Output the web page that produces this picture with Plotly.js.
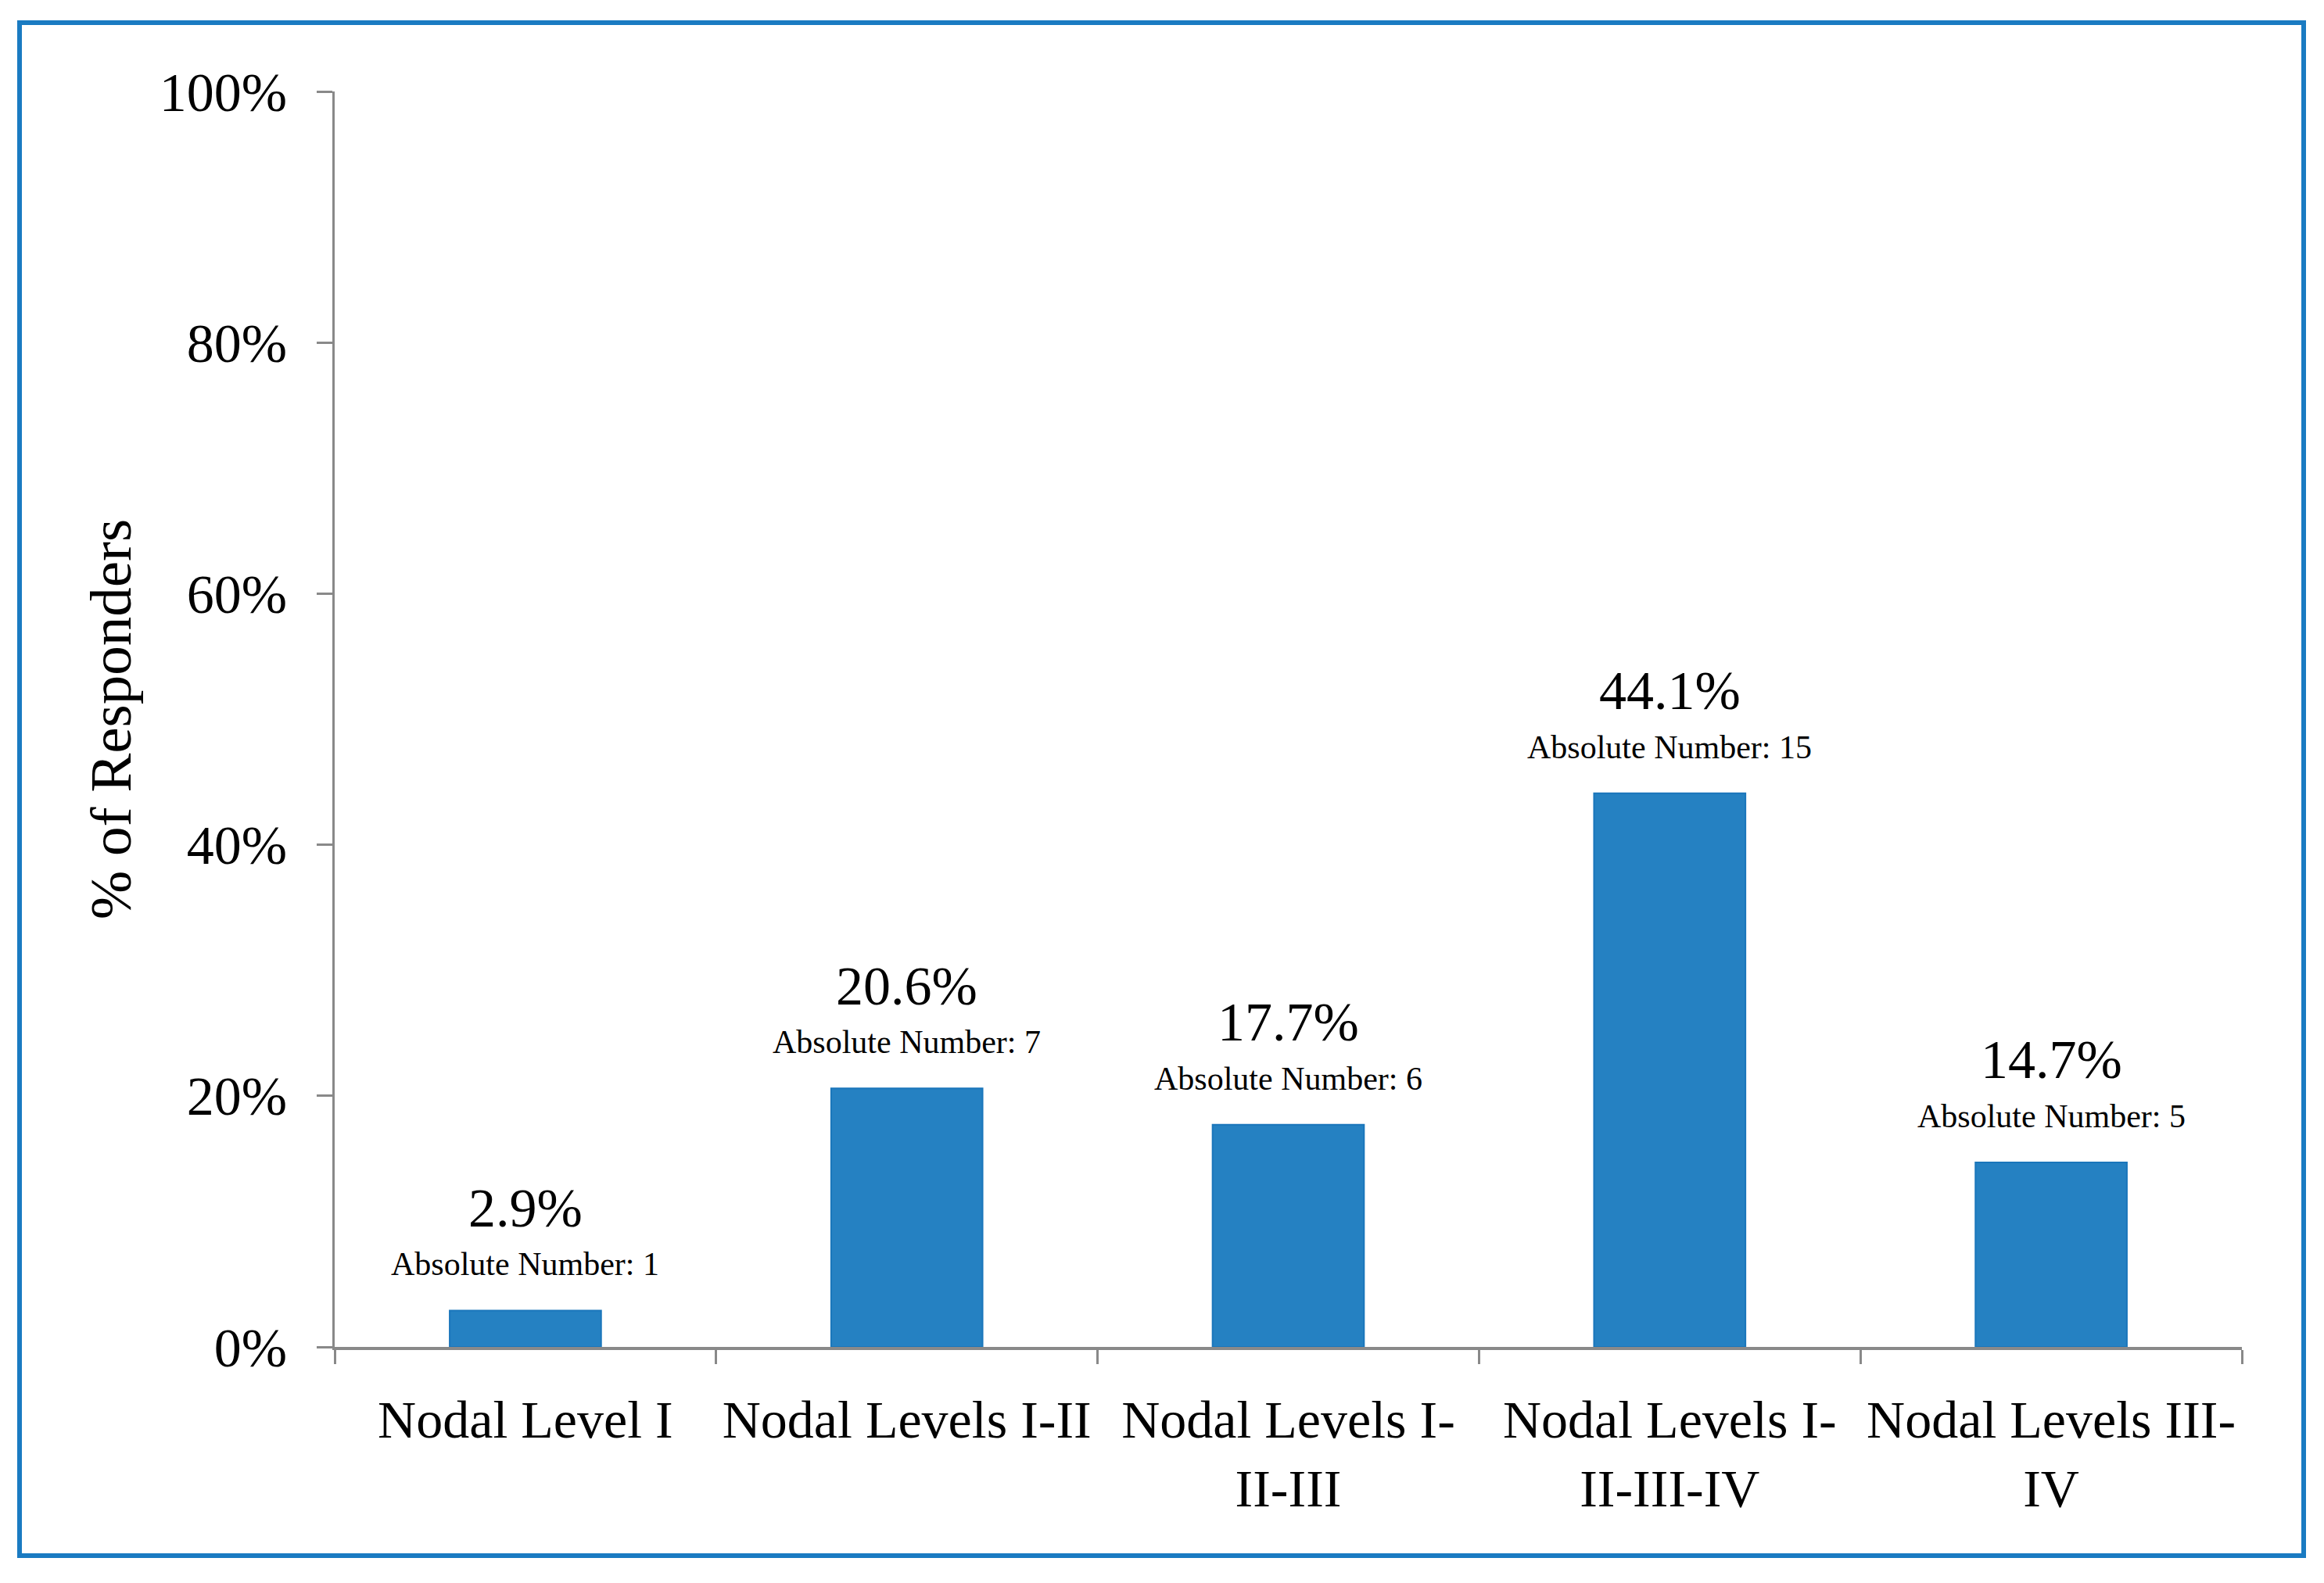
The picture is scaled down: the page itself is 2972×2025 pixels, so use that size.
<!DOCTYPE html>
<html>
<head>
<meta charset="utf-8">
<script src="https://cdn.plot.ly/plotly-3.0.1.min.js"></script>
<style>
html,body{margin:0;padding:0;background:#fff;}
#chart{width:2972px;height:2025px;}
</style>
</head>
<body>
<div id="chart"></div>
<script>
var categories = ["Nodal Level I", "Nodal Levels I-II", "Nodal Levels I-II-III", "Nodal Levels I-II-III-IV", "Nodal Levels III-IV"];
var tickLabels = ["Nodal Level I", "Nodal Levels I-II", "Nodal Levels I-<br>II-III", "Nodal Levels I-<br>II-III-IV", "Nodal Levels III-<br>IV"];
var percents = [2.9, 20.6, 17.7, 44.1, 14.7];
var counts = [1, 7, 6, 15, 5];
var yTicks = [0, 20, 40, 60, 80, 100];

var FONT = "Liberation Serif, Times New Roman, serif";
var AXIS = "#898989";

var trace = {
  type: "bar",
  x: categories,
  y: percents,
  marker: {color: "#2581c2", line: {color: "#1a76bb", width: 2}},
  hoverinfo: "none"
};

var annotations = [];
categories.forEach(function (c, i) {
  annotations.push({
    x: c, y: percents[i], xref: "x", yref: "y",
    text: percents[i].toFixed(1) + "%",
    showarrow: false, yanchor: "middle", yshift: 131,
    font: {family: FONT, size: 70, color: "#000"}
  });
  annotations.push({
    x: c, y: percents[i], xref: "x", yref: "y",
    text: "Absolute Number: " + counts[i],
    showarrow: false, yanchor: "middle", yshift: 59,
    font: {family: FONT, size: 42, color: "#000"}
  });
});

// outer blue frame (pixel positions converted to paper coordinates)
var L = 428, R = 105, T = 117, B = 302, W = 2972, H = 2025;
var pw = W - L - R, ph = H - T - B;
function px(x) { return (x - L) / pw; }
function py(y) { return (H - B - y) / ph; }

var layout = {
  width: W, height: H,
  margin: {l: L, r: R, t: T, b: B},
  paper_bgcolor: "#fff", plot_bgcolor: "#fff",
  showlegend: false,
  bargap: 0.603,
  font: {family: FONT, size: 68, color: "#000"},
  xaxis: {
    type: "category",
    tickvals: categories,
    ticktext: tickLabels,
    tickson: "boundaries",
    ticks: "outside", ticklen: 18, tickwidth: 3, tickcolor: AXIS,
    showline: true, linecolor: AXIS, linewidth: 4,
    showgrid: false, zeroline: false,
    ticklabelstandoff: 30,
    tickfont: {family: FONT, size: 68, color: "#000"}
  },
  yaxis: {
    range: [0, 100],
    tickvals: yTicks,
    ticktext: yTicks.map(function (v) { return v + "%"; }),
    ticks: "outside", ticklen: 20, tickwidth: 3, tickcolor: AXIS,
    showline: true, linecolor: AXIS, linewidth: 3,
    showgrid: false, zeroline: false,
    ticklabelstandoff: 24,
    tickfont: {family: FONT, size: 70, color: "#000"},
    title: {text: "% of Responders", standoff: 12, font: {family: FONT, size: 75, color: "#000"}}
  },
  annotations: annotations,
  shapes: [{
    type: "rect", xref: "paper", yref: "paper",
    x0: px(25), x1: px(2946), y0: py(1990), y1: py(29),
    line: {color: "#1a7bc2", width: 6}, fillcolor: "rgba(0,0,0,0)"
  }]
};

Plotly.newPlot("chart", [trace], layout, {staticPlot: true, displayModeBar: false});
</script>
</body>
</html>
